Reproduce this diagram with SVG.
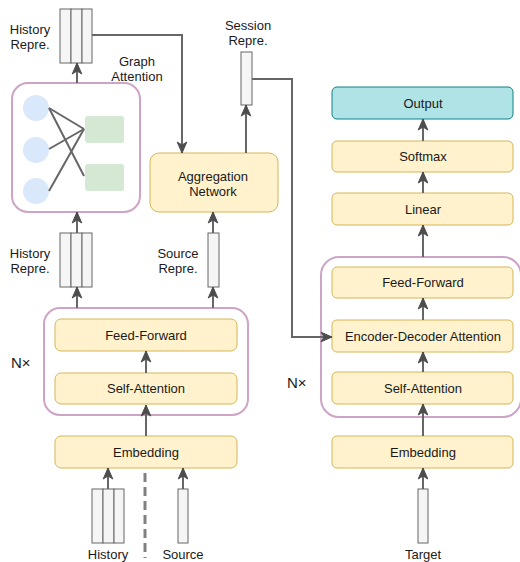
<svg xmlns="http://www.w3.org/2000/svg" width="520" height="562" viewBox="0 0 520 562">
  <defs>
    <marker id="arr" markerUnits="userSpaceOnUse" markerWidth="13" markerHeight="12" viewBox="0 0 13 12" refX="12" refY="6" orient="auto">
      <path d="M1,1.2 L12,6 L1,10.8 L4,6 Z" fill="#4d4d4d" stroke="#4d4d4d" stroke-width="1"/>
    </marker>
    <style>
      text { font-family: "Liberation Sans", Arial, sans-serif; font-size: 13px; fill: #1a1a1a; text-anchor: middle; }
      .blk { fill: #fff2cc; stroke: #d6b656; stroke-width: 1; }
      .out { fill: #b0e3e6; stroke: #0e8088; stroke-width: 1; }
      .stack { fill: none; stroke: #cda4c6; stroke-width: 2; }
      .vec { fill: #f5f5f5; stroke: #666; stroke-width: 1; }
      .wire { fill: none; stroke: #666; stroke-width: 2; }
      .nx { font-size: 15px; text-anchor: start; }
    </style>
  </defs>

  <!-- encoder side -->
  <g id="encoder-stack">
    <rect class="stack" x="44" y="308" width="204" height="107" rx="16"/>
    <text class="nx" x="11" y="368">N×</text>
  </g>
  <g id="enc-feed-forward">
    <rect class="blk" x="55" y="319" width="182" height="32" rx="6"/>
    <text x="146" y="340">Feed-Forward</text>
  </g>
  <g id="enc-self-attention">
    <rect class="blk" x="55" y="373" width="182" height="31" rx="6"/>
    <text x="146" y="393">Self-Attention</text>
  </g>
  <g id="enc-embedding">
    <rect class="blk" x="55" y="436" width="182" height="32" rx="6"/>
    <text x="146" y="457">Embedding</text>
  </g>

  <g id="history-input">
    <rect class="vec" x="92" y="489" width="11" height="54"/>
    <rect class="vec" x="103" y="489" width="11" height="54"/>
    <rect class="vec" x="114" y="489" width="10" height="54"/>
    <text x="108" y="559">History</text>
  </g>
  <g id="source-input">
    <rect class="vec" x="178" y="489" width="10" height="54"/>
    <text x="183" y="559">Source</text>
  </g>

  <g id="history-repr-mid">
    <rect class="vec" x="60" y="233" width="11" height="54"/>
    <rect class="vec" x="71" y="233" width="11" height="54"/>
    <rect class="vec" x="82" y="233" width="10" height="54"/>
    <text x="30" y="258">History</text>
    <text x="30" y="273">Repre.</text>
  </g>
  <g id="source-repr">
    <rect class="vec" x="208" y="233" width="11" height="54"/>
    <text x="178" y="258">Source</text>
    <text x="178" y="273">Repre.</text>
  </g>

  <g id="graph-attention">
    <rect class="stack" x="12" y="83" width="128" height="129" rx="16" fill="#fff"/>
    <circle cx="36" cy="108" r="13" fill="#dae8fc"/>
    <circle cx="36" cy="150" r="13" fill="#dae8fc"/>
    <circle cx="36" cy="191" r="13" fill="#dae8fc"/>
    <rect x="85" y="116" width="39" height="27" rx="3" fill="#d5e8d4"/>
    <rect x="85" y="164" width="39" height="27" rx="3" fill="#d5e8d4"/>
    <g stroke="#666" stroke-width="2">
      <line x1="49" y1="108" x2="84" y2="129"/>
      <line x1="49" y1="108" x2="84" y2="176"/>
      <line x1="49" y1="149" x2="84" y2="129"/>
      <line x1="49" y1="191" x2="84" y2="129"/>
    </g>
    <text x="137" y="66">Graph</text>
    <text x="137" y="81">Attention</text>
  </g>

  <g id="history-repr-top">
    <rect class="vec" x="60" y="9" width="11" height="54"/>
    <rect class="vec" x="71" y="9" width="11" height="54"/>
    <rect class="vec" x="82" y="9" width="10" height="54"/>
    <text x="30" y="34">History</text>
    <text x="30" y="49">Repre.</text>
  </g>

  <g id="aggregation-network">
    <rect class="blk" x="150" y="153" width="128" height="59" rx="9"/>
    <text x="213" y="181">Aggregation</text>
    <text x="213" y="196">Network</text>
  </g>

  <g id="session-repr">
    <rect class="vec" x="241" y="52" width="11" height="53"/>
    <text x="248" y="30">Session</text>
    <text x="248" y="45">Repre.</text>
  </g>

  <!-- decoder side -->
  <g id="decoder-stack">
    <rect class="stack" x="321" y="257" width="200" height="160" rx="18"/>
    <text class="nx" x="287" y="388">N×</text>
  </g>
  <g id="output">
    <rect class="out" x="332" y="87" width="181" height="32" rx="5"/>
    <text x="423" y="108">Output</text>
  </g>
  <g id="softmax">
    <rect class="blk" x="332" y="141" width="181" height="31" rx="5"/>
    <text x="423" y="161">Softmax</text>
  </g>
  <g id="linear">
    <rect class="blk" x="332" y="193" width="181" height="32" rx="5"/>
    <text x="423" y="214">Linear</text>
  </g>
  <g id="dec-feed-forward">
    <rect class="blk" x="332" y="267" width="181" height="31" rx="5"/>
    <text x="423" y="287">Feed-Forward</text>
  </g>
  <g id="enc-dec-attention">
    <rect class="blk" x="332" y="320" width="181" height="32" rx="5"/>
    <text x="423" y="341">Encoder-Decoder Attention</text>
  </g>
  <g id="dec-self-attention">
    <rect class="blk" x="332" y="372" width="181" height="32" rx="5"/>
    <text x="423" y="393">Self-Attention</text>
  </g>
  <g id="dec-embedding">
    <rect class="blk" x="332" y="436" width="181" height="32" rx="5"/>
    <text x="423" y="457">Embedding</text>
  </g>
  <g id="target-input">
    <rect class="vec" x="418" y="489" width="10" height="54"/>
    <text x="423" y="559">Target</text>
  </g>

  <g id="connectors" class="wire">
    <!-- encoder -->
    <line x1="108" y1="489" x2="108" y2="468" marker-end="url(#arr)"/>
    <line x1="183" y1="489" x2="183" y2="468" marker-end="url(#arr)"/>
    <line x1="145" y1="473" x2="145" y2="558" stroke="#808080" stroke-width="3" stroke-dasharray="9 5"/>
    <line x1="146" y1="436" x2="146" y2="405" marker-end="url(#arr)"/>
    <line x1="146" y1="373" x2="146" y2="351" marker-end="url(#arr)"/>
    <line x1="77" y1="308" x2="77" y2="287" marker-end="url(#arr)"/>
    <line x1="213" y1="308" x2="213" y2="287" marker-end="url(#arr)"/>
    <line x1="77" y1="233" x2="77" y2="212" marker-end="url(#arr)"/>
    <line x1="213" y1="233" x2="213" y2="212" marker-end="url(#arr)"/>
    <line x1="77" y1="83" x2="77" y2="63" marker-end="url(#arr)"/>
    <polyline points="92,35 182,35 182,153" marker-end="url(#arr)"/>
    <line x1="246" y1="153" x2="246" y2="105" marker-end="url(#arr)"/>
    <polyline points="252,79 292,79 292,337 332,337" marker-end="url(#arr)"/>
    <!-- decoder -->
    <line x1="423" y1="489" x2="423" y2="468" marker-end="url(#arr)"/>
    <line x1="423" y1="436" x2="423" y2="404" marker-end="url(#arr)"/>
    <line x1="423" y1="372" x2="423" y2="352" marker-end="url(#arr)"/>
    <line x1="423" y1="320" x2="423" y2="298" marker-end="url(#arr)"/>
    <line x1="423" y1="257" x2="423" y2="225" marker-end="url(#arr)"/>
    <line x1="423" y1="193" x2="423" y2="172" marker-end="url(#arr)"/>
    <line x1="423" y1="141" x2="423" y2="119" marker-end="url(#arr)"/>
  </g>
</svg>
